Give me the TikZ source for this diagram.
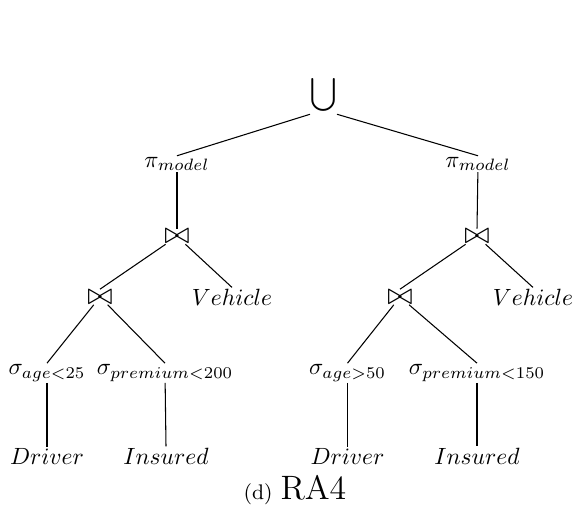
\documentclass[tikz,border=0pt]{standalone}
\usepackage{amsmath}
\usepackage{graphicx}
\begin{document}
\begin{tikzpicture}[x=0.42553pt,y=-0.42553pt,
  tn/.style={inner sep=0.6pt, outer sep=0pt},
  jn/.style={inner sep=0.3pt, outer sep=0pt},
  edge/.style={line width=0.45pt}]
\useasboundingbox (0,0) rectangle (576,510);
% nodes
\node[inner sep=0pt] (cup) at (323.5,95) {$\displaystyle\bigcup$};
\node[tn] (piL) at (177,164) {$\pi_{model}$};
\node[tn] (piR) at (478,164) {$\pi_{model}$};
\node[jn] (j1L) at (177,236.5) {\scalebox{1.3}{$\bowtie$}};
\node[jn] (j1R) at (477,236.5) {\scalebox{1.3}{$\bowtie$}};
\node[jn] (j2L) at (100,297) {\scalebox{1.3}{$\bowtie$}};
\node[jn] (j2R) at (400,297) {\scalebox{1.3}{$\bowtie$}};
\node[tn] (vL) at (232,297) {$Vehicle$};
\node[tn] (vR) at (533,297) {$Vehicle$};
\node[tn] (saL) at (47,373) {$\sigma_{age<25}$};
\node[tn] (spL) at (165,373) {$\sigma_{premium<200}$};
\node[tn] (saR) at (347.5,373) {$\sigma_{age>50}$};
\node[tn] (spR) at (477,373) {$\sigma_{premium<150}$};
\node[tn] (dL) at (47,456) {$Driver$};
\node[tn] (iL) at (166,456) {$Insured$};
\node[tn] (dR) at (347.5,456) {$Driver$};
\node[tn] (iR) at (477,456) {$Insured$};
\node[tn] (cap) at (295,490) {{\small (d)} {\Large RA4}};
% edges
\draw[edge] (cup.south west) -- (piL.north);
\draw[edge] (cup.south east) -- (piR.north);
\draw[edge] (piL) -- (j1L.north);
\draw[edge] (piR) -- (j1R.north);
\draw[edge] (j1L) -- (j2L.north);
\draw[edge] (j1L) -- (vL.north);
\draw[edge] (j1R) -- (j2R.north);
\draw[edge] (j1R) -- (vR.north);
\draw[edge] (j2L) -- (saL.north);
\draw[edge] (j2L) -- (spL.north);
\draw[edge] (j2R) -- (saR.north);
\draw[edge] (j2R) -- (spR.north);
\draw[edge] (saL) -- (dL.north);
\draw[edge] (spL) -- (iL.north);
\draw[edge] (saR) -- (dR.north);
\draw[edge] (spR) -- (iR.north);
\end{tikzpicture}
\end{document}
